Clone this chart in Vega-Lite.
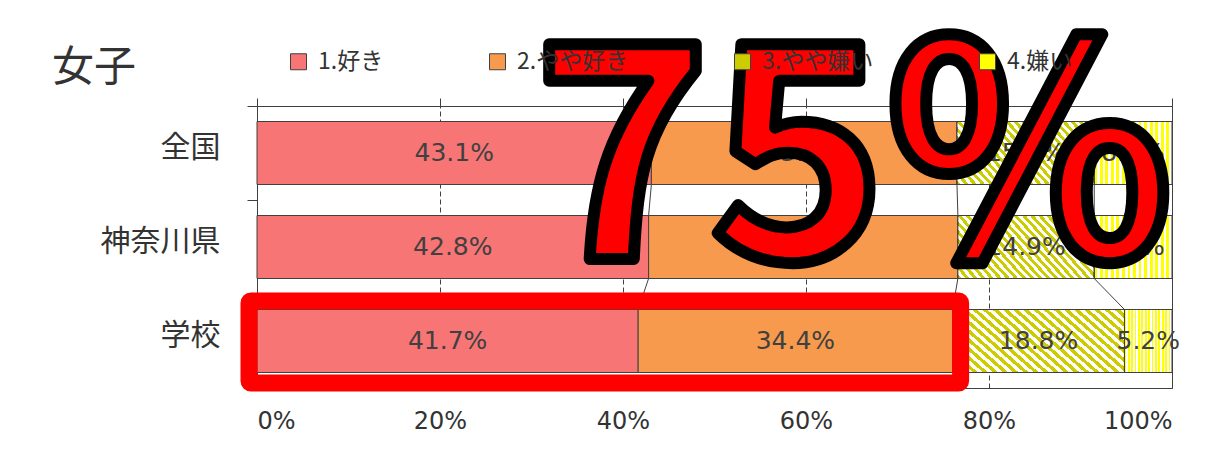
{
  "$schema": "https://vega.github.io/schema/vega-lite/v6.json",
  "width": 915,
  "height": 282,
  "autosize": {"type": "none"},
  "padding": {"left": 257, "top": 106, "right": 54, "bottom": 67},
  "background": "white",
  "config": {
    "view": {"stroke": "#404040", "strokeWidth": 1},
    "font": "Noto Sans CJK JP",
    "axisY": {"labelFontSize": 30, "labelFont": "Noto Sans CJK JP", "labelColor": "#333333", "labelPadding": 27, "labelOffset": -6, "tickSize": 10, "tickColor": "#404040", "tickBand": "extent", "domain": false, "grid": false}
  },
  "title": {"text": "女子", "anchor": "start", "frame": "group", "dx": -205, "dy": 73, "fontSize": 42, "font": "Noto Sans CJK JP", "fontWeight": "normal", "color": "#333333"},
  "data": {"values": [
    {"region": "全国", "answer": "1.好き", "order": 1, "value": 43.1},
    {"region": "全国", "answer": "2.やや好き", "order": 2, "value": 33.4},
    {"region": "全国", "answer": "3.やや嫌い", "order": 3, "value": 15.0},
    {"region": "全国", "answer": "4.嫌い", "order": 4, "value": 8.5},
    {"region": "神奈川県", "answer": "1.好き", "order": 1, "value": 42.8},
    {"region": "神奈川県", "answer": "2.やや好き", "order": 2, "value": 33.8},
    {"region": "神奈川県", "answer": "3.やや嫌い", "order": 3, "value": 14.9},
    {"region": "神奈川県", "answer": "4.嫌い", "order": 4, "value": 8.5},
    {"region": "学校", "answer": "1.好き", "order": 1, "value": 41.7},
    {"region": "学校", "answer": "2.やや好き", "order": 2, "value": 34.4},
    {"region": "学校", "answer": "3.やや嫌い", "order": 3, "value": 18.8},
    {"region": "学校", "answer": "4.嫌い", "order": 4, "value": 5.2}
  ]},
  "transform": [
    {"calculate": "indexof(['全国','神奈川県','学校'], datum.region)", "as": "rorder"},
    {"stack": "value", "groupby": ["region"], "sort": [{"field": "order", "order": "ascending"}], "offset": "normalize", "as": ["x0", "x1"]},
    {"calculate": "(datum.x0 + datum.x1) / 2", "as": "mid"},
    {"calculate": "format(datum.value, '.1f') + '%'", "as": "label"}
  ],
  "resolve": {"axis": {"x": "independent"}},
  "layer": [
    {
      "mark": {"type": "bar", "stroke": "#404040", "strokeWidth": 1, "height": {"band": 0.67}},
      "encoding": {
        "y": {"field": "region", "type": "nominal", "sort": ["全国", "神奈川県", "学校"], "title": null,
              "scale": {"paddingInner": 0, "paddingOuter": 0}},
        "x": {"field": "x0", "type": "quantitative", "scale": {"domain": [0, 1], "nice": false},
              "axis": {"title": null, "format": ".0%", "values": [0, 0.2, 0.4, 0.6, 0.8, 1], "labelFontSize": 24, "labelFont": "DejaVu Sans", "labelColor": "#333333", "ticks": false, "domain": false, "grid": true, "gridColor": "#404040", "gridDash": [5, 3], "labelPadding": 21}},
        "x2": {"field": "x1"},
        "color": {"field": "answer", "type": "nominal",
                  "scale": {"domain": ["1.好き", "2.やや好き", "3.やや嫌い", "4.嫌い"], "range": ["#F77575", "#F79A4E", "#CCCC00", "#FFFF00"]},
                  "legend": {"orient": "none", "legendX": 30, "legendY": -56, "direction": "horizontal", "title": null, "symbolType": "square", "symbolSize": 256, "symbolStrokeColor": "#404040", "symbolStrokeWidth": 1, "labelFontSize": 23, "labelFont": "Noto Sans CJK JP", "labelColor": "#333333", "columnPadding": 102, "labelOffset": 8, "padding": 0}}
      }
    },
    {
      "transform": [{"filter": "datum.order == 3"}],
      "mark": {"type": "bar", "stroke": "#404040", "strokeWidth": 1, "height": {"band": 0.67}, "fill": {"gradient": "linear", "x1": 0, "y1": 1, "x2": 1.207, "y2": 0.493, "stops": [
        {"offset": 0, "color": "transparent"}, {"offset": 0.0208, "color": "transparent"}, {"offset": 0.0208, "color": "#ffffff"}, {"offset": 0.0417, "color": "#ffffff"},
        {"offset": 0.0417, "color": "transparent"}, {"offset": 0.0625, "color": "transparent"}, {"offset": 0.0625, "color": "#ffffff"}, {"offset": 0.0833, "color": "#ffffff"},
        {"offset": 0.0833, "color": "transparent"}, {"offset": 0.1042, "color": "transparent"}, {"offset": 0.1042, "color": "#ffffff"}, {"offset": 0.125, "color": "#ffffff"},
        {"offset": 0.125, "color": "transparent"}, {"offset": 0.1458, "color": "transparent"}, {"offset": 0.1458, "color": "#ffffff"}, {"offset": 0.1667, "color": "#ffffff"},
        {"offset": 0.1667, "color": "transparent"}, {"offset": 0.1875, "color": "transparent"}, {"offset": 0.1875, "color": "#ffffff"}, {"offset": 0.2083, "color": "#ffffff"},
        {"offset": 0.2083, "color": "transparent"}, {"offset": 0.2292, "color": "transparent"}, {"offset": 0.2292, "color": "#ffffff"}, {"offset": 0.25, "color": "#ffffff"},
        {"offset": 0.25, "color": "transparent"}, {"offset": 0.2708, "color": "transparent"}, {"offset": 0.2708, "color": "#ffffff"}, {"offset": 0.2917, "color": "#ffffff"},
        {"offset": 0.2917, "color": "transparent"}, {"offset": 0.3125, "color": "transparent"}, {"offset": 0.3125, "color": "#ffffff"}, {"offset": 0.3333, "color": "#ffffff"},
        {"offset": 0.3333, "color": "transparent"}, {"offset": 0.3542, "color": "transparent"}, {"offset": 0.3542, "color": "#ffffff"}, {"offset": 0.375, "color": "#ffffff"},
        {"offset": 0.375, "color": "transparent"}, {"offset": 0.3958, "color": "transparent"}, {"offset": 0.3958, "color": "#ffffff"}, {"offset": 0.4167, "color": "#ffffff"},
        {"offset": 0.4167, "color": "transparent"}, {"offset": 0.4375, "color": "transparent"}, {"offset": 0.4375, "color": "#ffffff"}, {"offset": 0.4583, "color": "#ffffff"},
        {"offset": 0.4583, "color": "transparent"}, {"offset": 0.4792, "color": "transparent"}, {"offset": 0.4792, "color": "#ffffff"}, {"offset": 0.5, "color": "#ffffff"},
        {"offset": 0.5, "color": "transparent"}, {"offset": 0.5208, "color": "transparent"}, {"offset": 0.5208, "color": "#ffffff"}, {"offset": 0.5417, "color": "#ffffff"},
        {"offset": 0.5417, "color": "transparent"}, {"offset": 0.5625, "color": "transparent"}, {"offset": 0.5625, "color": "#ffffff"}, {"offset": 0.5833, "color": "#ffffff"},
        {"offset": 0.5833, "color": "transparent"}, {"offset": 0.6042, "color": "transparent"}, {"offset": 0.6042, "color": "#ffffff"}, {"offset": 0.625, "color": "#ffffff"},
        {"offset": 0.625, "color": "transparent"}, {"offset": 0.6458, "color": "transparent"}, {"offset": 0.6458, "color": "#ffffff"}, {"offset": 0.6667, "color": "#ffffff"},
        {"offset": 0.6667, "color": "transparent"}, {"offset": 0.6875, "color": "transparent"}, {"offset": 0.6875, "color": "#ffffff"}, {"offset": 0.7083, "color": "#ffffff"},
        {"offset": 0.7083, "color": "transparent"}, {"offset": 0.7292, "color": "transparent"}, {"offset": 0.7292, "color": "#ffffff"}, {"offset": 0.75, "color": "#ffffff"},
        {"offset": 0.75, "color": "transparent"}, {"offset": 0.7708, "color": "transparent"}, {"offset": 0.7708, "color": "#ffffff"}, {"offset": 0.7917, "color": "#ffffff"},
        {"offset": 0.7917, "color": "transparent"}, {"offset": 0.8125, "color": "transparent"}, {"offset": 0.8125, "color": "#ffffff"}, {"offset": 0.8333, "color": "#ffffff"},
        {"offset": 0.8333, "color": "transparent"}, {"offset": 0.8542, "color": "transparent"}, {"offset": 0.8542, "color": "#ffffff"}, {"offset": 0.875, "color": "#ffffff"},
        {"offset": 0.875, "color": "transparent"}, {"offset": 0.8958, "color": "transparent"}, {"offset": 0.8958, "color": "#ffffff"}, {"offset": 0.9167, "color": "#ffffff"},
        {"offset": 0.9167, "color": "transparent"}, {"offset": 0.9375, "color": "transparent"}, {"offset": 0.9375, "color": "#ffffff"}, {"offset": 0.9583, "color": "#ffffff"},
        {"offset": 0.9583, "color": "transparent"}, {"offset": 0.9792, "color": "transparent"}, {"offset": 0.9792, "color": "#ffffff"}, {"offset": 1, "color": "#ffffff"}
      ]}},
      "encoding": {
        "y": {"field": "region", "type": "nominal", "sort": ["全国", "神奈川県", "学校"], "title": null},
        "x": {"field": "x0", "type": "quantitative", "axis": null},
        "x2": {"field": "x1"}
      }
    },
    {
      "transform": [{"filter": "datum.order == 4"}],
      "mark": {"type": "bar", "stroke": "#404040", "strokeWidth": 1, "height": {"band": 0.67}, "fill": {"gradient": "linear", "x1": 0, "y1": 0, "x2": 1, "y2": 0, "stops": [
        {"offset": 0, "color": "transparent"}, {"offset": 0.0357, "color": "transparent"}, {"offset": 0.0357, "color": "#ffffff"}, {"offset": 0.0714, "color": "#ffffff"},
        {"offset": 0.0714, "color": "transparent"}, {"offset": 0.1071, "color": "transparent"}, {"offset": 0.1071, "color": "#ffffff"}, {"offset": 0.1429, "color": "#ffffff"},
        {"offset": 0.1429, "color": "transparent"}, {"offset": 0.1786, "color": "transparent"}, {"offset": 0.1786, "color": "#ffffff"}, {"offset": 0.2143, "color": "#ffffff"},
        {"offset": 0.2143, "color": "transparent"}, {"offset": 0.25, "color": "transparent"}, {"offset": 0.25, "color": "#ffffff"}, {"offset": 0.2857, "color": "#ffffff"},
        {"offset": 0.2857, "color": "transparent"}, {"offset": 0.3214, "color": "transparent"}, {"offset": 0.3214, "color": "#ffffff"}, {"offset": 0.3571, "color": "#ffffff"},
        {"offset": 0.3571, "color": "transparent"}, {"offset": 0.3929, "color": "transparent"}, {"offset": 0.3929, "color": "#ffffff"}, {"offset": 0.4286, "color": "#ffffff"},
        {"offset": 0.4286, "color": "transparent"}, {"offset": 0.4643, "color": "transparent"}, {"offset": 0.4643, "color": "#ffffff"}, {"offset": 0.5, "color": "#ffffff"},
        {"offset": 0.5, "color": "transparent"}, {"offset": 0.5357, "color": "transparent"}, {"offset": 0.5357, "color": "#ffffff"}, {"offset": 0.5714, "color": "#ffffff"},
        {"offset": 0.5714, "color": "transparent"}, {"offset": 0.6071, "color": "transparent"}, {"offset": 0.6071, "color": "#ffffff"}, {"offset": 0.6429, "color": "#ffffff"},
        {"offset": 0.6429, "color": "transparent"}, {"offset": 0.6786, "color": "transparent"}, {"offset": 0.6786, "color": "#ffffff"}, {"offset": 0.7143, "color": "#ffffff"},
        {"offset": 0.7143, "color": "transparent"}, {"offset": 0.75, "color": "transparent"}, {"offset": 0.75, "color": "#ffffff"}, {"offset": 0.7857, "color": "#ffffff"},
        {"offset": 0.7857, "color": "transparent"}, {"offset": 0.8214, "color": "transparent"}, {"offset": 0.8214, "color": "#ffffff"}, {"offset": 0.8571, "color": "#ffffff"},
        {"offset": 0.8571, "color": "transparent"}, {"offset": 0.8929, "color": "transparent"}, {"offset": 0.8929, "color": "#ffffff"}, {"offset": 0.9286, "color": "#ffffff"},
        {"offset": 0.9286, "color": "transparent"}, {"offset": 0.9643, "color": "transparent"}, {"offset": 0.9643, "color": "#ffffff"}, {"offset": 1, "color": "#ffffff"}
      ]}},
      "encoding": {
        "y": {"field": "region", "type": "nominal", "sort": ["全国", "神奈川県", "学校"], "title": null},
        "x": {"field": "x0", "type": "quantitative", "axis": null},
        "x2": {"field": "x1"}
      }
    },
    {
      "transform": [
        {"window": [{"op": "lead", "field": "x1", "as": "nx1"}, {"op": "lead", "field": "region", "as": "nregion"}], "sort": [{"field": "rorder", "order": "ascending"}], "groupby": ["answer"], "frame": [null, null]},
        {"filter": "datum.nregion != null && datum.order < 4"}
      ],
      "mark": {"type": "rule", "stroke": "#404040", "strokeWidth": 1},
      "encoding": {
        "y": {"field": "region", "type": "nominal", "sort": ["全国", "神奈川県", "学校"], "bandPosition": 0.835, "title": null},
        "y2": {"field": "nregion", "bandPosition": 0.165},
        "x": {"field": "x1", "type": "quantitative",
              "axis": {"orient": "top", "title": null, "labels": false, "ticks": true, "tickSize": 8, "tickColor": "#404040", "domain": false, "grid": false, "values": [0, 0.2, 0.4, 0.6, 0.8, 1]}},
        "x2": {"field": "nx1"}
      }
    },
    {
      "mark": {"type": "text", "font": "DejaVu Sans", "fontSize": 25, "color": "#404040", "align": "center", "baseline": "middle"},
      "encoding": {
        "y": {"field": "region", "type": "nominal", "sort": ["全国", "神奈川県", "学校"], "title": null},
        "x": {"field": "mid", "type": "quantitative", "axis": null},
        "text": {"field": "label"}
      }
    },
    {
      "transform": [
        {"filter": "datum.region == '学校' && datum.order <= 2"},
        {"aggregate": [{"op": "min", "field": "x0", "as": "hx0"}, {"op": "max", "field": "x1", "as": "hx1"}], "groupby": ["region"]}
      ],
      "mark": {"type": "bar", "filled": false, "stroke": "#FF0000", "strokeWidth": 17, "cornerRadius": 2, "strokeJoin": "round", "xOffset": -8, "x2Offset": 8, "yOffset": 1, "height": {"band": 0.872}},
      "encoding": {
        "y": {"field": "region", "type": "nominal", "sort": ["全国", "神奈川県", "学校"], "title": null},
        "x": {"field": "hx0", "type": "quantitative", "axis": null},
        "x2": {"field": "hx1"}
      }
    },
    {
      "data": {"values": [{"note": "75%", "region": "神奈川県"}]},
      "mark": {"type": "text", "font": "Noto Sans CJK JP", "fontWeight": "bold", "fontSize": 298, "fill": "#FF0000", "stroke": "#000000", "strokeWidth": 12, "strokeJoin": "round", "align": "center", "baseline": "alphabetic", "dy": 12},
      "encoding": {
        "x": {"datum": 0.652, "type": "quantitative", "axis": null},
        "y": {"field": "region", "type": "nominal", "sort": ["全国", "神奈川県", "学校"], "title": null},
        "text": {"field": "note"}
      }
    }
  ]
}
